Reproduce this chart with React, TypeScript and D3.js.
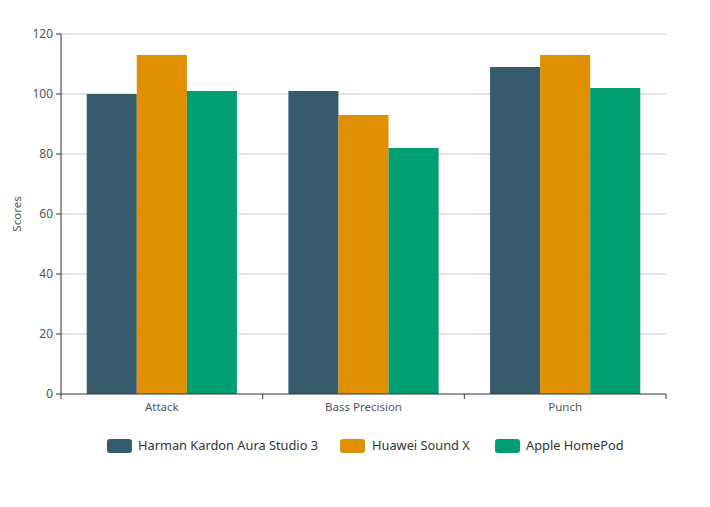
import React from "react";
import * as d3 from "d3";

const categories = ["Attack", "Bass Precision", "Punch"];
const seriesNames = ["Harman Kardon Aura Studio 3", "Huawei Sound X", "Apple HomePod"];
const harman = [100, 101, 109];
const huawei = [113, 93, 113];
const apple = [101, 82, 102];
const yTicks = [0, 20, 40, 60, 80, 100, 120];
const colors = ["#365b6d", "#e08f00", "#009e73"];

const W = 710, H = 507;
const left = 61, right = 666, top = 34, bottom = 394;
const font = "'Noto Sans', 'DejaVu Sans', sans-serif";

export default function App() {
  const series = [harman, huawei, apple];
  const x = d3.scaleBand().domain(categories).range([left, right]).paddingInner(0).paddingOuter(0);
  const y = d3.scaleLinear().domain([0, 120]).range([bottom, top]);
  const bw = x.bandwidth();
  const groupW = bw * 0.745;
  const barW = groupW / 3;
  const legendItems = [
    { sx: 107, tx: 138 },
    { sx: 340, tx: 372 },
    { sx: 495, tx: 526 },
  ];
  return (
    <svg width={W} height={H} style={{ position: "absolute", left: 0, top: 0, background: "#fff" }} fontFamily={font}>
      {yTicks.map((t) => (
        <g key={t}>
          {t !== 0 && <line x1={left} x2={right} y1={y(t)} y2={y(t)} stroke="#ccc" strokeWidth={1} />}
          <line x1={left - 5} x2={left} y1={y(t)} y2={y(t)} stroke="#333" />
          <text x={left - 8} y={y(t)} dy="0.35em" textAnchor="end" fontSize={12} fill="#555">{t}</text>
        </g>
      ))}
      {categories.map((c, ci) =>
        series.map((s, si) => {
          const x0 = (x(c) as number) + (bw - groupW) / 2 + si * barW;
          return <rect key={c + si} x={x0} y={y(s[ci])} width={barW} height={y(0) - y(s[ci])} fill={colors[si]} />;
        })
      )}
      <line x1={left} x2={left} y1={top} y2={bottom} stroke="#333" />
      <line x1={left} x2={right} y1={bottom} y2={bottom} stroke="#333" />
      {[...categories.map((c) => x(c) as number), right].map((v, i) => (
        <line key={i} x1={v} x2={v} y1={bottom} y2={bottom + 5} stroke="#333" />
      ))}
      {categories.map((c) => (
        <text key={c} x={(x(c) as number) + bw / 2} y={bottom + 17} textAnchor="middle" fontSize={11.5} fill="#555">{c}</text>
      ))}
      <text transform={`translate(21,${(top + bottom) / 2}) rotate(-90)`} textAnchor="middle" fontSize={11.5} fill="#555">Scores</text>
      {seriesNames.map((n, i) => (
        <g key={n}>
          <rect x={legendItems[i].sx} y={439} width={25} height={14} rx={3} fill={colors[i]} />
          <text x={legendItems[i].tx} y={446} dy="0.35em" fontSize={12.8} fill="#333">{n}</text>
        </g>
      ))}
    </svg>
  );
}
